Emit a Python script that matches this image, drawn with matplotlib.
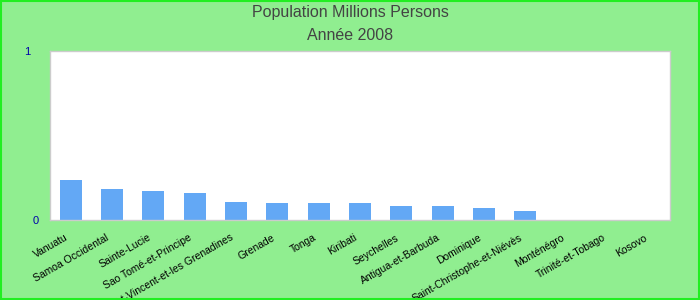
import numpy as np
import matplotlib.pyplot as plt
import matplotlib.transforms as mtransforms

plt.rcParams['font.family'] = ['Liberation Sans', 'DejaVu Sans']

pays = ["Vanuatu", "Samoa Occidental", "Sainte-Lucie", "Sao Tomé-et-Principe",
        "Saint-Vincent-et-les Grenadines", "Grenade", "Tonga", "Kiribati",
        "Seychelles", "Antigua-et-Barbuda", "Dominique",
        "Saint-Christophe-et-Niévès", "Monténégro", "Trinité-et-Tobago", "Kosovo"]
population = [0.237, 0.183, 0.172, 0.160, 0.107, 0.100, 0.100, 0.100,
              0.083, 0.083, 0.071, 0.053, np.nan, np.nan, np.nan]

fig = plt.figure(figsize=(7, 3), dpi=100, facecolor='#90ee90')
ax = fig.add_axes([50/700, 1-220/300, 620/700, 169/300])
ax.set_facecolor('white')

x = np.arange(len(pays))
ax.bar(x, population, width=0.53, color='#63a8f5')
ax.set_xlim(-0.5, len(pays) - 0.5)
ax.set_ylim(0, 1)
ax.set_yticks([0, 1])
ax.set_yticklabels(["0", "1"], color='#0000aa', fontsize=8)
ax.tick_params(axis='y', length=0, pad=10)
ax.tick_params(axis='x', length=0, pad=4)
ax.set_xticks(x)
ax.set_xticklabels(pays, rotation=30, ha='right', rotation_mode='anchor', fontsize=7.5)

# petit decalage des etiquettes
decal = mtransforms.ScaledTranslation(-6/100, -7/100, fig.dpi_scale_trans)
for lab in ax.get_xticklabels():
    lab.set_transform(lab.get_transform() + decal)
ylabs = ax.get_yticklabels()
ylabs[0].set_transform(ylabs[0].get_transform() + mtransforms.ScaledTranslation(3/100, 0, fig.dpi_scale_trans))
ylabs[1].set_transform(ylabs[1].get_transform() + mtransforms.ScaledTranslation(-6/100, 0, fig.dpi_scale_trans))

for s in ax.spines.values():
    s.set_color('#cccccc')
    s.set_linewidth(1)

fig.text(0.5, 1-13/300, "Population Millions Persons", ha='center', va='center',
         fontsize=11.5, color='#444444')
fig.text(0.5, 1-36/300, "Année 2008", ha='center', va='center',
         fontsize=11.5, color='#444444')

# bordure verte
fig.patches.append(plt.Rectangle((0.001, 0.002), 0.998, 0.996, transform=fig.transFigure,
                                 fill=False, edgecolor='#22ee22', linewidth=1.5))

fig.savefig("out.png", dpi=100, facecolor=fig.get_facecolor())
